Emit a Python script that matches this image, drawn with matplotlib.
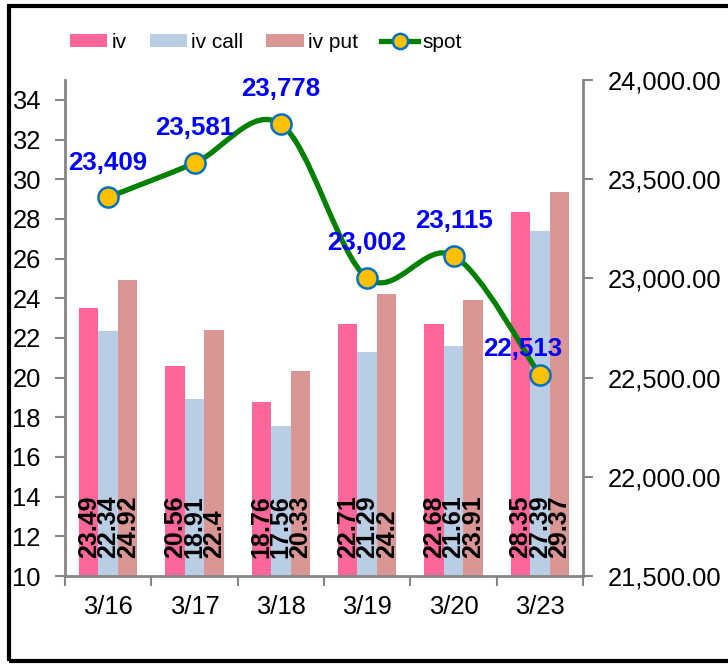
import matplotlib
matplotlib.use("Agg")
import matplotlib.pyplot as plt
from matplotlib.path import Path
from matplotlib.patches import PathPatch, Rectangle, Patch
from matplotlib.lines import Line2D
import numpy as np

plt.rcParams["font.family"] = ["Liberation Sans", "DejaVu Sans"]

dates = ["3/16", "3/17", "3/18", "3/19", "3/20", "3/23"]
iv = [23.49, 20.56, 18.76, 22.71, 22.68, 28.35]
iv_call = [22.34, 18.91, 17.56, 21.29, 21.61, 27.39]
iv_put = [24.92, 22.4, 20.33, 24.2, 23.91, 29.37]
spot = [23409, 23581, 23778, 23002, 23115, 22513]

c_iv = "#FF6699"
c_call = "#B9CDE5"
c_put = "#D99694"
c_line = "#008000"
c_axis = "#868686"


def smooth_path(xs, ys):
    # Excel-like smoothed line: Catmull-Rom segments as cubic Bezier curves
    pts = np.column_stack([xs, ys]).astype(float)
    ext = np.vstack([pts[0], pts, pts[-1]])
    verts = [tuple(pts[0])]
    codes = [Path.MOVETO]
    for i in range(len(pts) - 1):
        p0, p1, p2, p3 = ext[i], ext[i + 1], ext[i + 2], ext[i + 3]
        c1 = p1 + (p2 - p0) / 6.0
        c2 = p2 - (p3 - p1) / 6.0
        verts += [tuple(c1), tuple(c2), tuple(p2)]
        codes += [Path.CURVE4] * 3
    return Path(verts, codes)


fig = plt.figure(figsize=(7.28, 6.65), dpi=100)
ax = fig.add_axes([65 / 728, 1 - 576 / 665, (583 - 65) / 728, (576 - 80) / 665])
ax2 = ax.twinx()

x = np.arange(len(dates))
w = 0.226
for k, (vals, col) in enumerate([(iv, c_iv), (iv_call, c_call), (iv_put, c_put)]):
    ax.bar(x + (k - 1) * w, np.array(vals) - 10, bottom=10, width=w, color=col, zorder=2)
    for xi, v in zip(x + (k - 1) * w, vals):
        ax.annotate(f"{v:g}", (xi, 10), xytext=(0, 13), textcoords="offset points",
                    rotation=90, ha="center", va="bottom", fontsize=18,
                    fontweight="bold", color="black", zorder=3)

ax.set_xlim(-0.5, len(dates) - 0.5)
ax.set_ylim(10, 35)
ax.set_yticks(np.arange(10, 35, 2))
ax.set_xticks(x)
ax.set_xticklabels(dates)
ax.set_xticks(np.arange(-0.5, len(dates), 1), minor=True)
ax.tick_params(axis="x", which="major", length=0, pad=14, labelsize=18.4)
ax.tick_params(axis="x", which="minor", length=7, width=1.5, color=c_axis, direction="out")
ax.tick_params(axis="y", length=7, width=1.5, color=c_axis, labelsize=18.4, pad=10.5)

ax2.set_ylim(21500, 24000)
ax2.set_yticks(np.arange(21500, 24001, 500))
ax2.set_yticklabels([f"{v:,.2f}" for v in np.arange(21500, 24001, 500)])
ax2.tick_params(axis="y", length=7, width=1.5, color=c_axis, labelsize=18.4, pad=11)

for a in (ax, ax2):
    a.spines["top"].set_visible(False)
    for s in ("left", "right", "bottom"):
        a.spines[s].set_color(c_axis)
        a.spines[s].set_linewidth(2)
ax.spines["right"].set_visible(False)
ax2.spines["left"].set_visible(False)
ax2.spines["bottom"].set_visible(False)

ax2.add_patch(PathPatch(smooth_path(x, spot), facecolor="none", edgecolor=c_line,
                        linewidth=3.8, zorder=4, capstyle="round"))
ax2.plot(x, spot, linestyle="none", marker="o", markersize=14.5,
         markerfacecolor="#FFC000", markeredgecolor="#0070C0", markeredgewidth=1.8, zorder=5)

for i, v in enumerate(spot):
    off = (0, 25)
    if i == len(spot) - 1:
        off = (-12, 19)
    ax2.annotate(f"{v:,}", (x[i], v), xytext=off, textcoords="offset points",
                 ha="center", va="center", fontsize=18.6, fontweight="bold",
                 color="#0000FF", zorder=6)

handles = [
    Patch(facecolor=c_iv, label="iv"),
    Patch(facecolor=c_call, label="iv call"),
    Patch(facecolor=c_put, label="iv put"),
    Line2D([], [], color=c_line, linewidth=3.8, marker="o", markersize=11,
           markerfacecolor="#FFC000", markeredgecolor="#0070C0", markeredgewidth=1.8,
           label="spot"),
]
fig.legend(handles=handles, loc="center", ncol=4, frameon=False, fontsize=15,
           bbox_to_anchor=(266 / 728, 1 - 42 / 665), handlelength=1.8,
           handleheight=0.6, handletextpad=0.2, columnspacing=1.1)

fig.patches.append(Rectangle((9 / 728, 4 / 665), 2.0, 1 - 10 / 665, transform=fig.transFigure,
                             fill=False, edgecolor="black", linewidth=3, zorder=10))

fig.savefig("out.png", dpi=100)
